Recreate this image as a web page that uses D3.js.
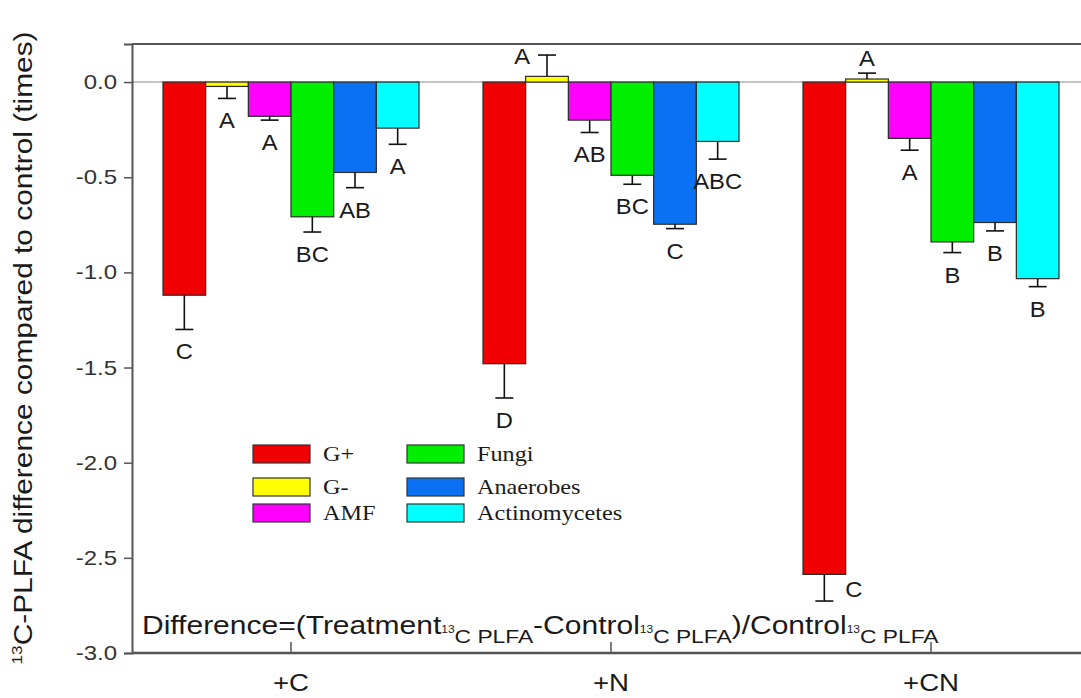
<!DOCTYPE html>
<html>
<head>
<meta charset="utf-8">
<script src="https://cdn.jsdelivr.net/npm/d3@7"></script>
<style>
  body { margin: 0; background: #fff; }
  svg { display: block; }
</style>
</head>
<body>
<svg id="chart" width="1081" height="698"></svg>
<script>
// treatments and PLFA groups
const treatments = ["+C", "+N", "+CN"];
const groups = ["G+", "G-", "AMF", "Fungi", "Anaerobes", "Actinomycetes"];
const colors = ["#f00000", "#ffff00", "#ff00ff", "#00ee00", "#0a72f2", "#00ffff"];

// difference values, one row per treatment
const valuesC  = [-1.12, -0.023, -0.18, -0.708, -0.475, -0.242];
const valuesN  = [-1.48,  0.03,  -0.20, -0.49,  -0.747, -0.312];
const valuesCN = [-2.587, 0.016, -0.296, -0.84, -0.738, -1.033];

// standard errors (one-sided)
const errC  = [0.18, 0.063, 0.02, 0.08, 0.08, 0.085];
const errN  = [0.18, 0.112, 0.065, 0.047, 0.023, 0.093];
const errCN = [0.14, 0.031, 0.062, 0.056, 0.044, 0.042];

// significance letters
const lettersC  = ["C", "A", "A", "BC", "AB", "A"];
const lettersN  = ["D", "A", "AB", "BC", "C", "ABC"];
const lettersCN = ["C", "A", "A", "B", "B", "B"];

const yTicks = [0, -0.5, -1.0, -1.5, -2.0, -2.5, -3.0];

const values = [valuesC, valuesN, valuesCN];
const errors = [errC, errN, errCN];
const letters = [lettersC, lettersN, lettersCN];

const rows = [];
treatments.forEach((t, i) => {
    groups.forEach((g, j) => {
        rows.push({ t: t, g: g, gi: j, v: values[i][j], e: errors[i][j], l: letters[i][j] });
    });
});

const svg = d3.select("#chart");
const W = 1081, H = 698;
const mLeft = 132, mTop = 44, mBottom = 653;
const txt = "#1a1a1a";

const x = d3.scaleBand().domain(treatments).range([131, 1091]).paddingInner(0.2).paddingOuter(0.1);
const x1 = d3.scaleBand().domain(groups).range([0, x.bandwidth()]);
const y = d3.scaleLinear().domain([-3, 0.2]).range([mBottom, mTop]);
const color = d3.scaleOrdinal().domain(groups).range(colors);

// helper: horizontally stretched text like the original figure
function stretched(parent, px, py, sx, str, opts) {
    const g = parent.append("g").attr("transform", `translate(${px},${py}) scale(${sx},1)`);
    const t = g.append("text")
        .attr("fill", txt)
        .attr("font-family", opts.family || "Liberation Sans, Arial, sans-serif")
        .attr("font-size", opts.size)
        .attr("text-anchor", opts.anchor || "start");
    if (str !== null) t.text(str);
    return t;
}

// zero line
svg.append("line")
    .attr("x1", mLeft).attr("x2", W)
    .attr("y1", y(0)).attr("y2", y(0))
    .attr("stroke", "#b0b0b0").attr("stroke-width", 1.5);

// bars
const barG = svg.append("g");
barG.selectAll("rect").data(rows).enter().append("rect")
    .attr("x", d => x(d.t) + x1(d.g))
    .attr("width", x1.bandwidth())
    .attr("y", d => y(Math.max(0, d.v)))
    .attr("height", d => Math.abs(y(d.v) - y(0)))
    .attr("fill", d => color(d.g))
    .attr("stroke", "#2a2a2a").attr("stroke-width", 1.2);

// error bars, away from zero
const errG = svg.append("g").attr("stroke", "#111").attr("stroke-width", 1.6);
rows.forEach(d => {
    const cx = x(d.t) + x1(d.g) + x1.bandwidth() / 2;
    const end = d.v >= 0 ? d.v + d.e : d.v - d.e;
    errG.append("line").attr("x1", cx).attr("x2", cx).attr("y1", y(d.v)).attr("y2", y(end));
    errG.append("line").attr("x1", cx - 9).attr("x2", cx + 9).attr("y1", y(end)).attr("y2", y(end));
});

// letters: default below the error bar; a couple sit beside it
const labelSide = { "+N|G-": "left", "+CN|G+": "right" };
rows.forEach(d => {
    const cx = x(d.t) + x1(d.g) + x1.bandwidth() / 2;
    const end = d.v >= 0 ? d.v + d.e : d.v - d.e;
    const side = labelSide[d.t + "|" + d.g] || (d.v >= 0 ? "above" : "below");
    let px = cx, py = y(end) + 30, anchor = "middle";
    if (side === "above") { py = y(end) - 7; }
    if (side === "left") { px = cx - 17; py = y(end) + 9; anchor = "end"; }
    if (side === "right") { px = cx + 21; py = y(end) - 4; anchor = "start"; }
    stretched(svg, px, py, 1.08, d.l, { size: 22, anchor: anchor });
});

// frame lines
svg.append("line").attr("x1", mLeft).attr("x2", W).attr("y1", mTop).attr("y2", mTop)
    .attr("stroke", "#555").attr("stroke-width", 2);
svg.append("line").attr("x1", mLeft).attr("x2", W).attr("y1", mBottom).attr("y2", mBottom)
    .attr("stroke", "#555").attr("stroke-width", 2.5);

// y axis
const yAxis = svg.append("g").attr("transform", `translate(${mLeft},0)`)
    .call(d3.axisLeft(y).tickValues(yTicks).tickSize(8).tickFormat(d => d.toFixed(1)));
yAxis.select(".domain").attr("stroke", "#555").attr("stroke-width", 2);
yAxis.selectAll(".tick line").attr("stroke", "#555").attr("stroke-width", 1.5);
yAxis.selectAll(".tick text").remove();
yTicks.forEach(v => {
    stretched(svg, 117, y(v) + 7, 1.2, v.toFixed(1), { size: 20, anchor: "end" }).attr("fill", "#333");
});

// x axis ticks point inward
const xAxis = svg.append("g").attr("transform", `translate(0,${mBottom})`)
    .call(d3.axisBottom(x).tickSize(-11).tickFormat(""));
xAxis.select(".domain").remove();
xAxis.selectAll(".tick line").attr("stroke", "#555").attr("stroke-width", 1.5);
treatments.forEach(t => {
    stretched(svg, x(t) + x.bandwidth() / 2, 691, 1.15, t, { size: 24, anchor: "middle" });
});

// y axis title
const yt = svg.append("g").attr("transform", "translate(32,348) rotate(-90) scale(1.15,1)")
    .append("text").attr("text-anchor", "middle").attr("fill", txt)
    .attr("font-family", "Liberation Sans, Arial, sans-serif").attr("font-size", 26);
yt.append("tspan").attr("font-size", 15).attr("dy", -10).text("13");
yt.append("tspan").attr("dy", 10).text("C-PLFA difference compared to control (times)");

// formula
const f = stretched(svg, 142, 634, 1.2, null, { size: 25 });
const sub = () => {
    f.append("tspan").attr("font-size", 10).attr("dy", -1).text("13");
    f.append("tspan").attr("font-size", 19).attr("dy", 10).text("C PLFA");
};
f.append("tspan").text("Difference=(Treatment");
sub();
f.append("tspan").attr("dy", -9).text("-Control");
sub();
f.append("tspan").attr("dy", -9).text(")/Control");
sub();

// legend
const legendCols = [groups.slice(0, 3), groups.slice(3)];
const rowY = [454, 487, 513];
legendCols.forEach((col, ci) => {
    const lx = ci === 0 ? 253 : 407;
    col.forEach((g, ri) => {
        svg.append("rect")
            .attr("x", lx).attr("y", rowY[ri] - 9).attr("width", 57).attr("height", 18)
            .attr("fill", color(g)).attr("stroke", "#333").attr("stroke-width", 1.2);
        stretched(svg, lx + 70, rowY[ri] + 7, 1.1, g, { size: 22, family: "Liberation Serif, Times New Roman, serif" });
    });
});
</script>
</body>
</html>
